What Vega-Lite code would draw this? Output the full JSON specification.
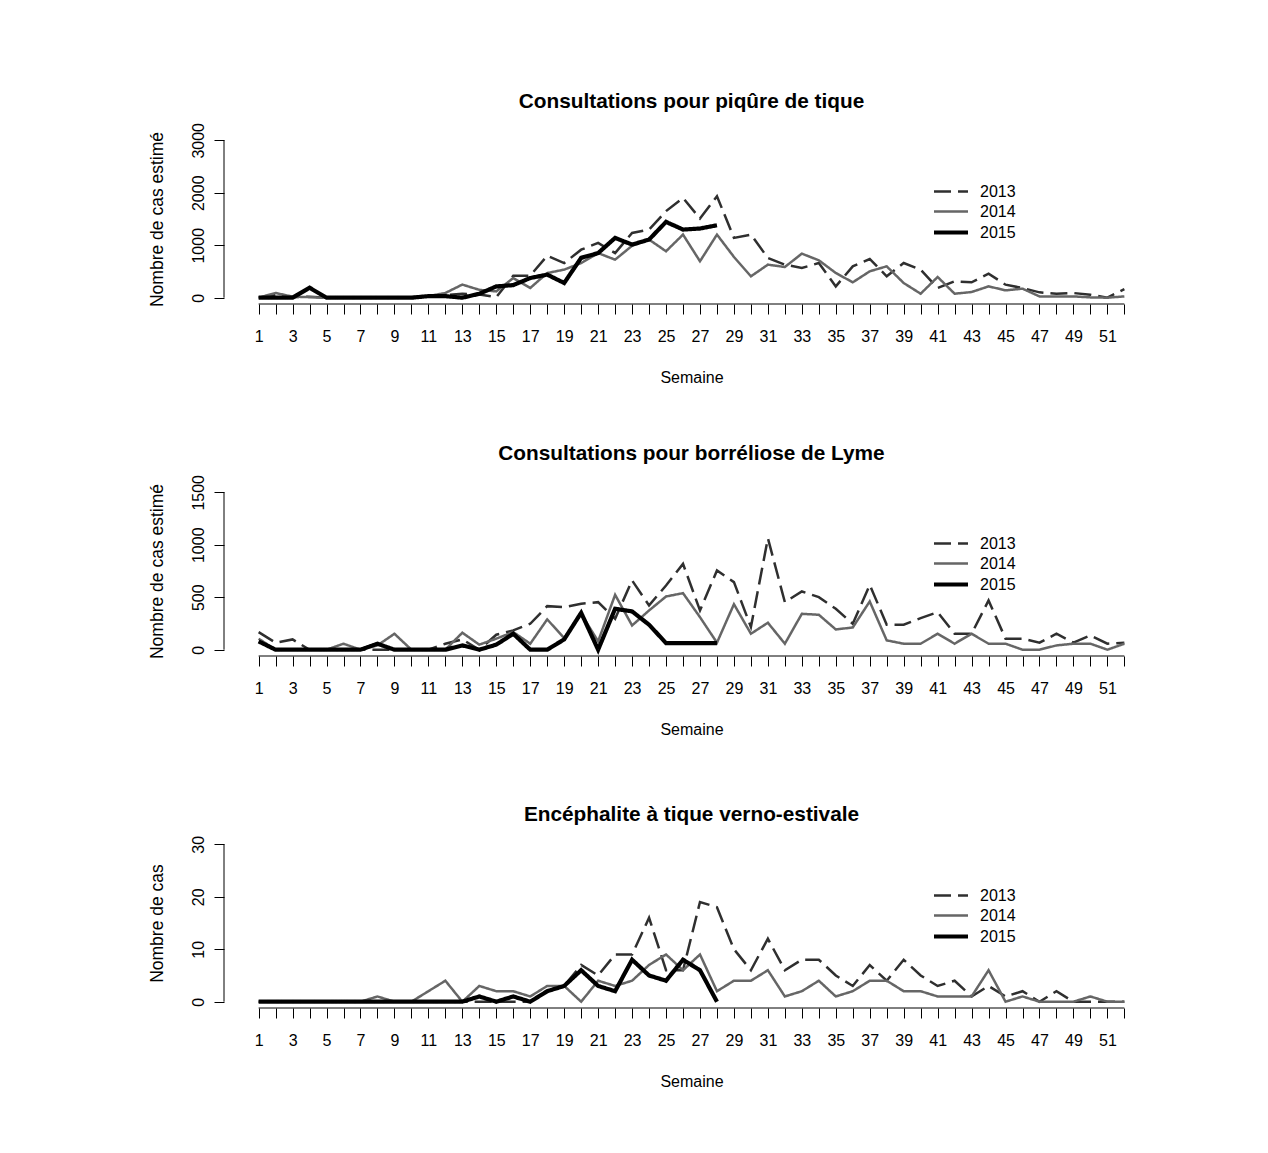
{
"$schema": "https://vega.github.io/schema/vega-lite/v6.json",
"autosize": {"type": "pad"},
"padding": {"left": 147, "top": 90, "right": 20, "bottom": 20},
"background": "white",
"bounds": "flush",
"spacing": 182,
"config": {
 "view": {"stroke": null},
 "font": "Liberation Sans",
 "axis": {"domain": false, "grid": false, "labelColor": "black", "labelFontSize": 16, "labelFont": "Liberation Sans", "titleFont": "Liberation Sans", "titleFontSize": 16, "titleFontWeight": "normal", "titleColor": "black", "labelFlush": false, "labelBound": false},
 "axisX": {"labelPadding": 14, "titlePadding": 25},
 "axisY": {"labelAngle": -90, "labelPadding": 8, "titlePadding": 24, "titleFontSize": 17.5, "format": "d", "tickSize": 10, "tickColor": "black"},
 "legend": {"orient": "none", "legendX": 716, "legendY": 47.5, "title": null, "symbolType": "M-2,0H2", "symbolSize": 289, "labelFontSize": 16, "labelFont": "Liberation Sans", "labelColor": "black", "labelOffset": 18, "rowPadding": 2, "padding": 0},
 "title": {"fontSize": 20.8, "fontWeight": "bold", "font": "Liberation Sans", "color": "black", "offset": 10, "anchor": "middle", "frame": "group"}
},
"resolve": {"scale": {"color": "independent", "strokeDash": "independent", "strokeWidth": "independent"}, "legend": {"color": "independent", "strokeDash": "independent", "strokeWidth": "independent"}},
"datasets": {
"tique": [
{"semaine":1,"annee":"2013","valeur":0},{"semaine":2,"annee":"2013","valeur":60},{"semaine":3,"annee":"2013","valeur":10},{"semaine":4,"annee":"2013","valeur":20},{"semaine":5,"annee":"2013","valeur":0},{"semaine":6,"annee":"2013","valeur":0},{"semaine":7,"annee":"2013","valeur":0},{"semaine":8,"annee":"2013","valeur":0},{"semaine":9,"annee":"2013","valeur":10},{"semaine":10,"annee":"2013","valeur":10},
{"semaine":11,"annee":"2013","valeur":20},{"semaine":12,"annee":"2013","valeur":50},{"semaine":13,"annee":"2013","valeur":75},{"semaine":14,"annee":"2013","valeur":60},{"semaine":15,"annee":"2013","valeur":10},{"semaine":16,"annee":"2013","valeur":420},{"semaine":17,"annee":"2013","valeur":420},{"semaine":18,"annee":"2013","valeur":800},{"semaine":19,"annee":"2013","valeur":660},{"semaine":20,"annee":"2013","valeur":915},
{"semaine":21,"annee":"2013","valeur":1044},{"semaine":22,"annee":"2013","valeur":850},{"semaine":23,"annee":"2013","valeur":1235},{"semaine":24,"annee":"2013","valeur":1299},{"semaine":25,"annee":"2013","valeur":1650},{"semaine":26,"annee":"2013","valeur":1903},{"semaine":27,"annee":"2013","valeur":1509},{"semaine":28,"annee":"2013","valeur":1935},{"semaine":29,"annee":"2013","valeur":1140},{"semaine":30,"annee":"2013","valeur":1203},
{"semaine":31,"annee":"2013","valeur":757},{"semaine":32,"annee":"2013","valeur":630},{"semaine":33,"annee":"2013","valeur":566},{"semaine":34,"annee":"2013","valeur":662},{"semaine":35,"annee":"2013","valeur":216},{"semaine":36,"annee":"2013","valeur":598},{"semaine":37,"annee":"2013","valeur":738},{"semaine":38,"annee":"2013","valeur":407},{"semaine":39,"annee":"2013","valeur":662},{"semaine":40,"annee":"2013","valeur":535},
{"semaine":41,"annee":"2013","valeur":185},{"semaine":42,"annee":"2013","valeur":312},{"semaine":43,"annee":"2013","valeur":293},{"semaine":44,"annee":"2013","valeur":458},{"semaine":45,"annee":"2013","valeur":248},{"semaine":46,"annee":"2013","valeur":185},{"semaine":47,"annee":"2013","valeur":102},{"semaine":48,"annee":"2013","valeur":76},{"semaine":49,"annee":"2013","valeur":89},{"semaine":50,"annee":"2013","valeur":57},
{"semaine":51,"annee":"2013","valeur":0},{"semaine":52,"annee":"2013","valeur":165},
{"semaine":1,"annee":"2014","valeur":0},{"semaine":2,"annee":"2014","valeur":90},{"semaine":3,"annee":"2014","valeur":20},{"semaine":4,"annee":"2014","valeur":10},{"semaine":5,"annee":"2014","valeur":0},{"semaine":6,"annee":"2014","valeur":0},{"semaine":7,"annee":"2014","valeur":0},{"semaine":8,"annee":"2014","valeur":0},{"semaine":9,"annee":"2014","valeur":0},{"semaine":10,"annee":"2014","valeur":10},
{"semaine":11,"annee":"2014","valeur":30},{"semaine":12,"annee":"2014","valeur":90},{"semaine":13,"annee":"2014","valeur":250},{"semaine":14,"annee":"2014","valeur":150},{"semaine":15,"annee":"2014","valeur":120},{"semaine":16,"annee":"2014","valeur":375},{"semaine":17,"annee":"2014","valeur":185},{"semaine":18,"annee":"2014","valeur":470},{"semaine":19,"annee":"2014","valeur":535},{"semaine":20,"annee":"2014","valeur":660},
{"semaine":21,"annee":"2014","valeur":850},{"semaine":22,"annee":"2014","valeur":725},{"semaine":23,"annee":"2014","valeur":990},{"semaine":24,"annee":"2014","valeur":1108},{"semaine":25,"annee":"2014","valeur":885},{"semaine":26,"annee":"2014","valeur":1203},{"semaine":27,"annee":"2014","valeur":694},{"semaine":28,"annee":"2014","valeur":1203},{"semaine":29,"annee":"2014","valeur":777},{"semaine":30,"annee":"2014","valeur":407},
{"semaine":31,"annee":"2014","valeur":630},{"semaine":32,"annee":"2014","valeur":585},{"semaine":33,"annee":"2014","valeur":840},{"semaine":34,"annee":"2014","valeur":713},{"semaine":35,"annee":"2014","valeur":471},{"semaine":36,"annee":"2014","valeur":293},{"semaine":37,"annee":"2014","valeur":503},{"semaine":38,"annee":"2014","valeur":598},{"semaine":39,"annee":"2014","valeur":280},{"semaine":40,"annee":"2014","valeur":76},
{"semaine":41,"annee":"2014","valeur":395},{"semaine":42,"annee":"2014","valeur":76},{"semaine":43,"annee":"2014","valeur":108},{"semaine":44,"annee":"2014","valeur":216},{"semaine":45,"annee":"2014","valeur":140},{"semaine":46,"annee":"2014","valeur":172},{"semaine":47,"annee":"2014","valeur":25},{"semaine":48,"annee":"2014","valeur":25},{"semaine":49,"annee":"2014","valeur":25},{"semaine":50,"annee":"2014","valeur":6},
{"semaine":51,"annee":"2014","valeur":0},{"semaine":52,"annee":"2014","valeur":25},
{"semaine":1,"annee":"2015","valeur":0},{"semaine":2,"annee":"2015","valeur":0},{"semaine":3,"annee":"2015","valeur":0},{"semaine":4,"annee":"2015","valeur":190},{"semaine":5,"annee":"2015","valeur":0},{"semaine":6,"annee":"2015","valeur":0},{"semaine":7,"annee":"2015","valeur":0},{"semaine":8,"annee":"2015","valeur":0},{"semaine":9,"annee":"2015","valeur":0},{"semaine":10,"annee":"2015","valeur":0},
{"semaine":11,"annee":"2015","valeur":30},{"semaine":12,"annee":"2015","valeur":30},{"semaine":13,"annee":"2015","valeur":0},{"semaine":14,"annee":"2015","valeur":75},{"semaine":15,"annee":"2015","valeur":215},{"semaine":16,"annee":"2015","valeur":240},{"semaine":17,"annee":"2015","valeur":375},{"semaine":18,"annee":"2015","valeur":440},{"semaine":19,"annee":"2015","valeur":280},{"semaine":20,"annee":"2015","valeur":760},
{"semaine":21,"annee":"2015","valeur":850},{"semaine":22,"annee":"2015","valeur":1140},{"semaine":23,"annee":"2015","valeur":1012},{"semaine":24,"annee":"2015","valeur":1108},{"semaine":25,"annee":"2015","valeur":1445},{"semaine":26,"annee":"2015","valeur":1299},{"semaine":27,"annee":"2015","valeur":1318},{"semaine":28,"annee":"2015","valeur":1381}
],
"lyme": [
{"semaine":1,"annee":"2013","valeur":168},{"semaine":2,"annee":"2013","valeur":67},{"semaine":3,"annee":"2013","valeur":98},{"semaine":4,"annee":"2013","valeur":0},{"semaine":5,"annee":"2013","valeur":0},{"semaine":6,"annee":"2013","valeur":0},{"semaine":7,"annee":"2013","valeur":0},{"semaine":8,"annee":"2013","valeur":0},{"semaine":9,"annee":"2013","valeur":0},{"semaine":10,"annee":"2013","valeur":0},
{"semaine":11,"annee":"2013","valeur":0},{"semaine":12,"annee":"2013","valeur":57},{"semaine":13,"annee":"2013","valeur":98},{"semaine":14,"annee":"2013","valeur":0},{"semaine":15,"annee":"2013","valeur":143},{"semaine":16,"annee":"2013","valeur":184},{"semaine":17,"annee":"2013","valeur":247},{"semaine":18,"annee":"2013","valeur":415},{"semaine":19,"annee":"2013","valeur":406},{"semaine":20,"annee":"2013","valeur":438},
{"semaine":21,"annee":"2013","valeur":453},{"semaine":22,"annee":"2013","valeur":295},{"semaine":23,"annee":"2013","valeur":660},{"semaine":24,"annee":"2013","valeur":422},{"semaine":25,"annee":"2013","valeur":612},{"semaine":26,"annee":"2013","valeur":818},{"semaine":27,"annee":"2013","valeur":374},{"semaine":28,"annee":"2013","valeur":755},{"semaine":29,"annee":"2013","valeur":644},{"semaine":30,"annee":"2013","valeur":216},
{"semaine":31,"annee":"2013","valeur":1062},{"semaine":32,"annee":"2013","valeur":453},{"semaine":33,"annee":"2013","valeur":555},{"semaine":34,"annee":"2013","valeur":501},{"semaine":35,"annee":"2013","valeur":390},{"semaine":36,"annee":"2013","valeur":247},{"semaine":37,"annee":"2013","valeur":618},{"semaine":38,"annee":"2013","valeur":238},{"semaine":39,"annee":"2013","valeur":238},{"semaine":40,"annee":"2013","valeur":301},
{"semaine":41,"annee":"2013","valeur":358},{"semaine":42,"annee":"2013","valeur":152},{"semaine":43,"annee":"2013","valeur":152},{"semaine":44,"annee":"2013","valeur":469},{"semaine":45,"annee":"2013","valeur":105},{"semaine":46,"annee":"2013","valeur":105},{"semaine":47,"annee":"2013","valeur":67},{"semaine":48,"annee":"2013","valeur":152},{"semaine":49,"annee":"2013","valeur":67},{"semaine":50,"annee":"2013","valeur":136},
{"semaine":51,"annee":"2013","valeur":57},{"semaine":52,"annee":"2013","valeur":67},
{"semaine":1,"annee":"2014","valeur":105},{"semaine":2,"annee":"2014","valeur":0},{"semaine":3,"annee":"2014","valeur":0},{"semaine":4,"annee":"2014","valeur":0},{"semaine":5,"annee":"2014","valeur":0},{"semaine":6,"annee":"2014","valeur":57},{"semaine":7,"annee":"2014","valeur":0},{"semaine":8,"annee":"2014","valeur":41},{"semaine":9,"annee":"2014","valeur":152},{"semaine":10,"annee":"2014","valeur":0},
{"semaine":11,"annee":"2014","valeur":0},{"semaine":12,"annee":"2014","valeur":0},{"semaine":13,"annee":"2014","valeur":162},{"semaine":14,"annee":"2014","valeur":48},{"semaine":15,"annee":"2014","valeur":105},{"semaine":16,"annee":"2014","valeur":168},{"semaine":17,"annee":"2014","valeur":57},{"semaine":18,"annee":"2014","valeur":289},{"semaine":19,"annee":"2014","valeur":111},{"semaine":20,"annee":"2014","valeur":342},
{"semaine":21,"annee":"2014","valeur":80},{"semaine":22,"annee":"2014","valeur":523},{"semaine":23,"annee":"2014","valeur":231},{"semaine":24,"annee":"2014","valeur":374},{"semaine":25,"annee":"2014","valeur":507},{"semaine":26,"annee":"2014","valeur":539},{"semaine":27,"annee":"2014","valeur":310},{"semaine":28,"annee":"2014","valeur":67},{"semaine":29,"annee":"2014","valeur":434},{"semaine":30,"annee":"2014","valeur":152},
{"semaine":31,"annee":"2014","valeur":257},{"semaine":32,"annee":"2014","valeur":57},{"semaine":33,"annee":"2014","valeur":342},{"semaine":34,"annee":"2014","valeur":333},{"semaine":35,"annee":"2014","valeur":193},{"semaine":36,"annee":"2014","valeur":212},{"semaine":37,"annee":"2014","valeur":460},{"semaine":38,"annee":"2014","valeur":89},{"semaine":39,"annee":"2014","valeur":57},{"semaine":40,"annee":"2014","valeur":57},
{"semaine":41,"annee":"2014","valeur":152},{"semaine":42,"annee":"2014","valeur":57},{"semaine":43,"annee":"2014","valeur":152},{"semaine":44,"annee":"2014","valeur":57},{"semaine":45,"annee":"2014","valeur":57},{"semaine":46,"annee":"2014","valeur":0},{"semaine":47,"annee":"2014","valeur":0},{"semaine":48,"annee":"2014","valeur":41},{"semaine":49,"annee":"2014","valeur":57},{"semaine":50,"annee":"2014","valeur":57},
{"semaine":51,"annee":"2014","valeur":0},{"semaine":52,"annee":"2014","valeur":57},
{"semaine":1,"annee":"2015","valeur":79},{"semaine":2,"annee":"2015","valeur":0},{"semaine":3,"annee":"2015","valeur":0},{"semaine":4,"annee":"2015","valeur":0},{"semaine":5,"annee":"2015","valeur":0},{"semaine":6,"annee":"2015","valeur":0},{"semaine":7,"annee":"2015","valeur":0},{"semaine":8,"annee":"2015","valeur":57},{"semaine":9,"annee":"2015","valeur":0},{"semaine":10,"annee":"2015","valeur":0},
{"semaine":11,"annee":"2015","valeur":0},{"semaine":12,"annee":"2015","valeur":0},{"semaine":13,"annee":"2015","valeur":41},{"semaine":14,"annee":"2015","valeur":0},{"semaine":15,"annee":"2015","valeur":48},{"semaine":16,"annee":"2015","valeur":152},{"semaine":17,"annee":"2015","valeur":0},{"semaine":18,"annee":"2015","valeur":0},{"semaine":19,"annee":"2015","valeur":98},{"semaine":20,"annee":"2015","valeur":352},
{"semaine":21,"annee":"2015","valeur":0},{"semaine":22,"annee":"2015","valeur":390},{"semaine":23,"annee":"2015","valeur":365},{"semaine":24,"annee":"2015","valeur":238},{"semaine":25,"annee":"2015","valeur":63},{"semaine":26,"annee":"2015","valeur":63},{"semaine":27,"annee":"2015","valeur":63},{"semaine":28,"annee":"2015","valeur":63}
],
"tbe": [
{"semaine":1,"annee":"2013","valeur":0},{"semaine":2,"annee":"2013","valeur":0},{"semaine":3,"annee":"2013","valeur":0},{"semaine":4,"annee":"2013","valeur":0},{"semaine":5,"annee":"2013","valeur":0},{"semaine":6,"annee":"2013","valeur":0},{"semaine":7,"annee":"2013","valeur":0},{"semaine":8,"annee":"2013","valeur":0},{"semaine":9,"annee":"2013","valeur":0},{"semaine":10,"annee":"2013","valeur":0},
{"semaine":11,"annee":"2013","valeur":0},{"semaine":12,"annee":"2013","valeur":0},{"semaine":13,"annee":"2013","valeur":0},{"semaine":14,"annee":"2013","valeur":0},{"semaine":15,"annee":"2013","valeur":0},{"semaine":16,"annee":"2013","valeur":0},{"semaine":17,"annee":"2013","valeur":0},{"semaine":18,"annee":"2013","valeur":2},{"semaine":19,"annee":"2013","valeur":3},{"semaine":20,"annee":"2013","valeur":7},
{"semaine":21,"annee":"2013","valeur":5},{"semaine":22,"annee":"2013","valeur":9},{"semaine":23,"annee":"2013","valeur":9},{"semaine":24,"annee":"2013","valeur":16},{"semaine":25,"annee":"2013","valeur":6},{"semaine":26,"annee":"2013","valeur":6},{"semaine":27,"annee":"2013","valeur":19},{"semaine":28,"annee":"2013","valeur":18},{"semaine":29,"annee":"2013","valeur":10},{"semaine":30,"annee":"2013","valeur":6},
{"semaine":31,"annee":"2013","valeur":12},{"semaine":32,"annee":"2013","valeur":6},{"semaine":33,"annee":"2013","valeur":8},{"semaine":34,"annee":"2013","valeur":8},{"semaine":35,"annee":"2013","valeur":5},{"semaine":36,"annee":"2013","valeur":3},{"semaine":37,"annee":"2013","valeur":7},{"semaine":38,"annee":"2013","valeur":4},{"semaine":39,"annee":"2013","valeur":8},{"semaine":40,"annee":"2013","valeur":5},
{"semaine":41,"annee":"2013","valeur":3},{"semaine":42,"annee":"2013","valeur":4},{"semaine":43,"annee":"2013","valeur":1},{"semaine":44,"annee":"2013","valeur":3},{"semaine":45,"annee":"2013","valeur":1},{"semaine":46,"annee":"2013","valeur":2},{"semaine":47,"annee":"2013","valeur":0},{"semaine":48,"annee":"2013","valeur":2},{"semaine":49,"annee":"2013","valeur":0},{"semaine":50,"annee":"2013","valeur":0},
{"semaine":51,"annee":"2013","valeur":0},{"semaine":52,"annee":"2013","valeur":0},
{"semaine":1,"annee":"2014","valeur":0},{"semaine":2,"annee":"2014","valeur":0},{"semaine":3,"annee":"2014","valeur":0},{"semaine":4,"annee":"2014","valeur":0},{"semaine":5,"annee":"2014","valeur":0},{"semaine":6,"annee":"2014","valeur":0},{"semaine":7,"annee":"2014","valeur":0},{"semaine":8,"annee":"2014","valeur":1},{"semaine":9,"annee":"2014","valeur":0},{"semaine":10,"annee":"2014","valeur":0},
{"semaine":11,"annee":"2014","valeur":2},{"semaine":12,"annee":"2014","valeur":4},{"semaine":13,"annee":"2014","valeur":0},{"semaine":14,"annee":"2014","valeur":3},{"semaine":15,"annee":"2014","valeur":2},{"semaine":16,"annee":"2014","valeur":2},{"semaine":17,"annee":"2014","valeur":1},{"semaine":18,"annee":"2014","valeur":3},{"semaine":19,"annee":"2014","valeur":3},{"semaine":20,"annee":"2014","valeur":0},
{"semaine":21,"annee":"2014","valeur":4},{"semaine":22,"annee":"2014","valeur":3},{"semaine":23,"annee":"2014","valeur":4},{"semaine":24,"annee":"2014","valeur":7},{"semaine":25,"annee":"2014","valeur":9},{"semaine":26,"annee":"2014","valeur":6},{"semaine":27,"annee":"2014","valeur":9},{"semaine":28,"annee":"2014","valeur":2},{"semaine":29,"annee":"2014","valeur":4},{"semaine":30,"annee":"2014","valeur":4},
{"semaine":31,"annee":"2014","valeur":6},{"semaine":32,"annee":"2014","valeur":1},{"semaine":33,"annee":"2014","valeur":2},{"semaine":34,"annee":"2014","valeur":4},{"semaine":35,"annee":"2014","valeur":1},{"semaine":36,"annee":"2014","valeur":2},{"semaine":37,"annee":"2014","valeur":4},{"semaine":38,"annee":"2014","valeur":4},{"semaine":39,"annee":"2014","valeur":2},{"semaine":40,"annee":"2014","valeur":2},
{"semaine":41,"annee":"2014","valeur":1},{"semaine":42,"annee":"2014","valeur":1},{"semaine":43,"annee":"2014","valeur":1},{"semaine":44,"annee":"2014","valeur":6},{"semaine":45,"annee":"2014","valeur":0},{"semaine":46,"annee":"2014","valeur":1},{"semaine":47,"annee":"2014","valeur":0},{"semaine":48,"annee":"2014","valeur":0},{"semaine":49,"annee":"2014","valeur":0},{"semaine":50,"annee":"2014","valeur":1},
{"semaine":51,"annee":"2014","valeur":0},{"semaine":52,"annee":"2014","valeur":0},
{"semaine":1,"annee":"2015","valeur":0},{"semaine":2,"annee":"2015","valeur":0},{"semaine":3,"annee":"2015","valeur":0},{"semaine":4,"annee":"2015","valeur":0},{"semaine":5,"annee":"2015","valeur":0},{"semaine":6,"annee":"2015","valeur":0},{"semaine":7,"annee":"2015","valeur":0},{"semaine":8,"annee":"2015","valeur":0},{"semaine":9,"annee":"2015","valeur":0},{"semaine":10,"annee":"2015","valeur":0},
{"semaine":11,"annee":"2015","valeur":0},{"semaine":12,"annee":"2015","valeur":0},{"semaine":13,"annee":"2015","valeur":0},{"semaine":14,"annee":"2015","valeur":1},{"semaine":15,"annee":"2015","valeur":0},{"semaine":16,"annee":"2015","valeur":1},{"semaine":17,"annee":"2015","valeur":0},{"semaine":18,"annee":"2015","valeur":2},{"semaine":19,"annee":"2015","valeur":3},{"semaine":20,"annee":"2015","valeur":6},
{"semaine":21,"annee":"2015","valeur":3},{"semaine":22,"annee":"2015","valeur":2},{"semaine":23,"annee":"2015","valeur":8},{"semaine":24,"annee":"2015","valeur":5},{"semaine":25,"annee":"2015","valeur":4},{"semaine":26,"annee":"2015","valeur":8},{"semaine":27,"annee":"2015","valeur":6},{"semaine":28,"annee":"2015","valeur":0}
]
},
"vconcat": [
{
 "title": "Consultations pour piqûre de tique",
 "width": 935, "height": 170,
 "layer": [
  {"data": {"name": "tique"}, "mark": {"type": "line"},
   "encoding": {
    "x": {"field": "semaine", "type": "quantitative", "scale": {"domain": [-1.04, 54.04], "nice": false, "zero": false}, "axis": {"title": "Semaine", "ticks": true, "tickSize": 10, "tickColor": "black", "tickWidth": 1, "labelOverlap": false, "values": [1,2,3,4,5,6,7,8,9,10,11,12,13,14,15,16,17,18,19,20,21,22,23,24,25,26,27,28,29,30,31,32,33,34,35,36,37,38,39,40,41,42,43,44,45,46,47,48,49,50,51,52], "labelExpr": "datum.value % 2 == 1 ? datum.label : ''"}},
    "y": {"field": "valeur", "type": "quantitative", "scale": {"domain": [-120, 3120], "nice": false, "zero": false}, "axis": {"title": "Nombre de cas estimé", "values": [0, 1000, 2000, 3000]}},
    "color": {"field": "annee", "type": "nominal", "scale": {"domain": ["2013","2014","2015"], "range": ["#2f2f2f","#666666","#000000"]}},
    "strokeDash": {"field": "annee", "type": "nominal", "scale": {"domain": ["2013","2014","2015"], "range": [[17,7],[1,0],[1,0]]}},
    "strokeWidth": {"field": "annee", "type": "nominal", "scale": {"type": "ordinal", "domain": ["2013","2014","2015"], "range": [2.5,2.5,4.2]}}
   }},
  {"data": {"values": [{}]}, "mark": {"type": "rule", "color": "black", "strokeWidth": 1},
   "encoding": {"x": {"datum": 1, "type": "quantitative", "axis": {"title": "Semaine", "ticks": true, "tickSize": 10, "tickColor": "black", "tickWidth": 1, "labelOverlap": false, "values": [1,2,3,4,5,6,7,8,9,10,11,12,13,14,15,16,17,18,19,20,21,22,23,24,25,26,27,28,29,30,31,32,33,34,35,36,37,38,39,40,41,42,43,44,45,46,47,48,49,50,51,52], "labelExpr": "datum.value % 2 == 1 ? datum.label : ''"}}, "x2": {"datum": 52}, "y": {"datum": -120, "type": "quantitative", "axis": {"title": "Nombre de cas estimé", "values": [0, 1000, 2000, 3000]}}}},
  {"data": {"values": [{}]}, "mark": {"type": "rule", "color": "black", "strokeWidth": 1},
   "encoding": {"y": {"datum": 0, "type": "quantitative", "axis": {"title": "Nombre de cas estimé", "values": [0, 1000, 2000, 3000]}}, "y2": {"datum": 3000}, "x": {"datum": -1.04, "type": "quantitative", "axis": {"title": "Semaine", "ticks": true, "tickSize": 10, "tickColor": "black", "tickWidth": 1, "labelOverlap": false, "values": [1,2,3,4,5,6,7,8,9,10,11,12,13,14,15,16,17,18,19,20,21,22,23,24,25,26,27,28,29,30,31,32,33,34,35,36,37,38,39,40,41,42,43,44,45,46,47,48,49,50,51,52], "labelExpr": "datum.value % 2 == 1 ? datum.label : ''"}}}}
 ]
},
{
 "title": "Consultations pour borréliose de Lyme",
 "width": 935, "height": 170,
 "layer": [
  {"data": {"name": "lyme"}, "mark": {"type": "line"},
   "encoding": {
    "x": {"field": "semaine", "type": "quantitative", "scale": {"domain": [-1.04, 54.04], "nice": false, "zero": false}, "axis": {"title": "Semaine", "ticks": true, "tickSize": 10, "tickColor": "black", "tickWidth": 1, "labelOverlap": false, "values": [1,2,3,4,5,6,7,8,9,10,11,12,13,14,15,16,17,18,19,20,21,22,23,24,25,26,27,28,29,30,31,32,33,34,35,36,37,38,39,40,41,42,43,44,45,46,47,48,49,50,51,52], "labelExpr": "datum.value % 2 == 1 ? datum.label : ''"}},
    "y": {"field": "valeur", "type": "quantitative", "scale": {"domain": [-60, 1560], "nice": false, "zero": false}, "axis": {"title": "Nombre de cas estimé", "values": [0, 500, 1000, 1500]}},
    "color": {"field": "annee", "type": "nominal", "scale": {"domain": ["2013","2014","2015"], "range": ["#2f2f2f","#666666","#000000"]}},
    "strokeDash": {"field": "annee", "type": "nominal", "scale": {"domain": ["2013","2014","2015"], "range": [[17,7],[1,0],[1,0]]}},
    "strokeWidth": {"field": "annee", "type": "nominal", "scale": {"type": "ordinal", "domain": ["2013","2014","2015"], "range": [2.5,2.5,4.2]}}
   }},
  {"data": {"values": [{}]}, "mark": {"type": "rule", "color": "black", "strokeWidth": 1},
   "encoding": {"x": {"datum": 1, "type": "quantitative", "axis": {"title": "Semaine", "ticks": true, "tickSize": 10, "tickColor": "black", "tickWidth": 1, "labelOverlap": false, "values": [1,2,3,4,5,6,7,8,9,10,11,12,13,14,15,16,17,18,19,20,21,22,23,24,25,26,27,28,29,30,31,32,33,34,35,36,37,38,39,40,41,42,43,44,45,46,47,48,49,50,51,52], "labelExpr": "datum.value % 2 == 1 ? datum.label : ''"}}, "x2": {"datum": 52}, "y": {"datum": -60, "type": "quantitative", "axis": {"title": "Nombre de cas estimé", "values": [0, 500, 1000, 1500]}}}},
  {"data": {"values": [{}]}, "mark": {"type": "rule", "color": "black", "strokeWidth": 1},
   "encoding": {"y": {"datum": 0, "type": "quantitative", "axis": {"title": "Nombre de cas estimé", "values": [0, 500, 1000, 1500]}}, "y2": {"datum": 1500}, "x": {"datum": -1.04, "type": "quantitative", "axis": {"title": "Semaine", "ticks": true, "tickSize": 10, "tickColor": "black", "tickWidth": 1, "labelOverlap": false, "values": [1,2,3,4,5,6,7,8,9,10,11,12,13,14,15,16,17,18,19,20,21,22,23,24,25,26,27,28,29,30,31,32,33,34,35,36,37,38,39,40,41,42,43,44,45,46,47,48,49,50,51,52], "labelExpr": "datum.value % 2 == 1 ? datum.label : ''"}}}}
 ]
},
{
 "title": "Encéphalite à tique verno-estivale",
 "width": 935, "height": 170,
 "layer": [
  {"data": {"name": "tbe"}, "mark": {"type": "line"},
   "encoding": {
    "x": {"field": "semaine", "type": "quantitative", "scale": {"domain": [-1.04, 54.04], "nice": false, "zero": false}, "axis": {"title": "Semaine", "ticks": true, "tickSize": 10, "tickColor": "black", "tickWidth": 1, "labelOverlap": false, "values": [1,2,3,4,5,6,7,8,9,10,11,12,13,14,15,16,17,18,19,20,21,22,23,24,25,26,27,28,29,30,31,32,33,34,35,36,37,38,39,40,41,42,43,44,45,46,47,48,49,50,51,52], "labelExpr": "datum.value % 2 == 1 ? datum.label : ''"}},
    "y": {"field": "valeur", "type": "quantitative", "scale": {"domain": [-1.2, 31.2], "nice": false, "zero": false}, "axis": {"title": "Nombre de cas", "values": [0, 10, 20, 30]}},
    "color": {"field": "annee", "type": "nominal", "scale": {"domain": ["2013","2014","2015"], "range": ["#2f2f2f","#666666","#000000"]}},
    "strokeDash": {"field": "annee", "type": "nominal", "scale": {"domain": ["2013","2014","2015"], "range": [[17,7],[1,0],[1,0]]}},
    "strokeWidth": {"field": "annee", "type": "nominal", "scale": {"type": "ordinal", "domain": ["2013","2014","2015"], "range": [2.5,2.5,4.2]}}
   }},
  {"data": {"values": [{}]}, "mark": {"type": "rule", "color": "black", "strokeWidth": 1},
   "encoding": {"x": {"datum": 1, "type": "quantitative", "axis": {"title": "Semaine", "ticks": true, "tickSize": 10, "tickColor": "black", "tickWidth": 1, "labelOverlap": false, "values": [1,2,3,4,5,6,7,8,9,10,11,12,13,14,15,16,17,18,19,20,21,22,23,24,25,26,27,28,29,30,31,32,33,34,35,36,37,38,39,40,41,42,43,44,45,46,47,48,49,50,51,52], "labelExpr": "datum.value % 2 == 1 ? datum.label : ''"}}, "x2": {"datum": 52}, "y": {"datum": -1.2, "type": "quantitative", "axis": {"title": "Nombre de cas", "values": [0, 10, 20, 30]}}}},
  {"data": {"values": [{}]}, "mark": {"type": "rule", "color": "black", "strokeWidth": 1},
   "encoding": {"y": {"datum": 0, "type": "quantitative", "axis": {"title": "Nombre de cas", "values": [0, 10, 20, 30]}}, "y2": {"datum": 30}, "x": {"datum": -1.04, "type": "quantitative", "axis": {"title": "Semaine", "ticks": true, "tickSize": 10, "tickColor": "black", "tickWidth": 1, "labelOverlap": false, "values": [1,2,3,4,5,6,7,8,9,10,11,12,13,14,15,16,17,18,19,20,21,22,23,24,25,26,27,28,29,30,31,32,33,34,35,36,37,38,39,40,41,42,43,44,45,46,47,48,49,50,51,52], "labelExpr": "datum.value % 2 == 1 ? datum.label : ''"}}}}
 ]
}
]
}
